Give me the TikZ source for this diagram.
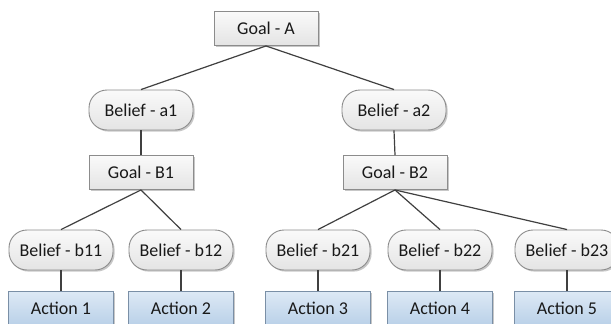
\documentclass[tikz,border=0pt]{standalone}
\usepackage{fontspec}
\setmainfont{Carlito}
\usetikzlibrary{shadows}
\definecolor{edgegray}{HTML}{8C8C8C}
\definecolor{linkgray}{HTML}{404040}
\definecolor{boxtop}{HTML}{FAFAFA}
\definecolor{boxbot}{HTML}{E4E4E4}
\definecolor{acttop}{HTML}{DDE9F5}
\definecolor{actbot}{HTML}{B9D0E8}
\definecolor{actedge}{HTML}{7A8FA6}
\tikzset{
  x=1pt, y=-1pt,
  base/.style={draw=edgegray, line width=0.9pt, inner sep=0pt, align=center,
    font=\fontsize{18}{21}\selectfont, text=black!90,
    drop shadow={shadow xshift=1.6pt, shadow yshift=-1.6pt, fill=black, opacity=0.22}},
  goalbox/.style={base, minimum width=104pt, minimum height=34pt,
    top color=boxtop, bottom color=boxbot},
  beliefbox/.style={base, rounded corners=18pt, minimum width=104pt, minimum height=40pt,
    top color=boxtop, bottom color=boxbot},
  actionbox/.style={base, draw=actedge, minimum width=105pt, minimum height=35pt,
    top color=acttop, bottom color=actbot},
  link/.style={draw=linkgray, line width=1.2pt}
}
\begin{document}
\begin{tikzpicture}
\useasboundingbox (0,0) rectangle (611,324);
\clip (0,0) rectangle (611,324);
\fill[white] (0,0) rectangle (611,324);

% top goal and first level of beliefs
\node[goalbox] (GA) at (266,28.5) {Goal - A};
\node[beliefbox] (a1) at (141,110) {Belief - a1};
\node[beliefbox] (a2) at (394,110) {Belief - a2};

% sub-goals
\node[goalbox] (B1) at (141,172.5) {Goal - B1};
\node[goalbox] (B2) at (395,172.5) {Goal - B2};

% second level of beliefs
\node[beliefbox] (b11) at (61,250) {Belief - b11};
\node[beliefbox] (b12) at (181,250) {Belief - b12};
\node[beliefbox] (b21) at (318,250) {Belief - b21};
\node[beliefbox] (b22) at (440,250) {Belief - b22};
\node[beliefbox] (b23) at (567,250) {Belief - b23};

% actions
\node[actionbox] (A1) at (61,308.5) {Action 1};
\node[actionbox] (A2) at (181,308.5) {Action 2};
\node[actionbox] (A3) at (318,308.5) {Action 3};
\node[actionbox] (A4) at (440,308.5) {Action 4};
\node[actionbox] (A5) at (567,308.5) {Action 5};

% connectors
\draw[link] (GA.south) -- (a1.north);
\draw[link] (GA.south) -- (a2.north);
\draw[link] (a1.south) -- (B1.north);
\draw[link] (a2.south) -- (B2.north);
\draw[link] (B1.south) -- (b11.north);
\draw[link] (B1.south) -- (b12.north);
\draw[link] (B2.south) -- (b21.north);
\draw[link] (B2.south) -- (b22.north);
\draw[link] (B2.south) -- (b23.north);
\draw[link] (b11.south) -- (A1.north);
\draw[link] (b12.south) -- (A2.north);
\draw[link] (b21.south) -- (A3.north);
\draw[link] (b22.south) -- (A4.north);
\draw[link] (b23.south) -- (A5.north);
\end{tikzpicture}
\end{document}
